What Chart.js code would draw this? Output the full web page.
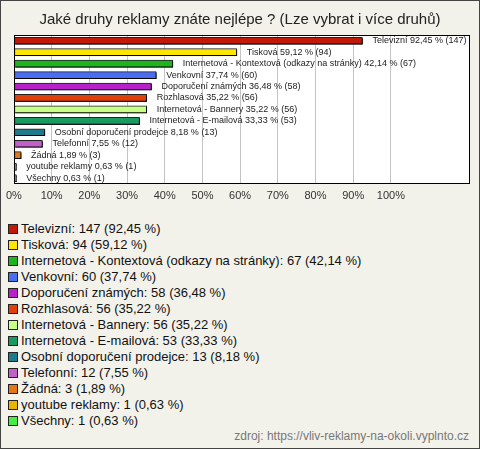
<!doctype html>
<html lang="cs">
    <head>
        <meta charset="UTF-8"/>
        <title>Reklamy</title>
        <script src="https://cdn.jsdelivr.net/npm/chart.js@4/dist/chart.umd.min.js"></script>
        <style>
         * { margin: 0; padding: 0; }
         body { width: 480px; height: 449px; background: #f3f2ea; position: relative; overflow: hidden;
                font-family: "Liberation Sans", Arial, sans-serif; }
         #frame { position: absolute; left: 0; top: 0; width: 480px; height: 449px; box-sizing: border-box;
                  border: 1px solid #444; pointer-events: none; }
         #wrap { position: absolute; left: 0; top: 0; width: 480px; height: 215px; }
         #legend { position: absolute; left: 8px; top: 221px; font-size: 13px; color: #111; }
         #legend div { height: 16px; line-height: 16px; white-space: nowrap; }
         #legend span.box { display: inline-block; width: 8px; height: 8px; border: 1px solid #222;
                            margin-right: 3px; vertical-align: -1px; }
         #source { position: absolute; right: 11px; top: 429px; font-size: 12px; color: #777; }
        </style>
    </head>
    <body>
        <div id="wrap"><canvas id="chart"></canvas></div>
        <div id="legend"></div>
        <div id="source">zdroj: https://vliv-reklamy-na-okoli.vyplnto.cz</div>
        <div id="frame"></div>
        <script>
         const categories = ['Televizní', 'Tisková', 'Internetová - Kontextová (odkazy na stránky)', 'Venkovní',
                             'Doporučení známých', 'Rozhlasová', 'Internetová - Bannery', 'Internetová - E-mailová',
                             'Osobní doporučení prodejce', 'Telefonní', 'Žádná', 'youtube reklamy', 'Všechny'];
         const counts = [147, 94, 67, 60, 58, 56, 56, 53, 13, 12, 3, 1, 1];
         const percents = [92.45, 59.12, 42.14, 37.74, 36.48, 35.22, 35.22, 33.33, 8.18, 7.55, 1.89, 0.63, 0.63];
         const colors = ['#c01a0a', '#ffe600', '#1fb41f', '#4a6ef0', '#b522c8', '#e0400a', '#c8ff88',
                         '#1a9a60', '#1f7a8c', '#c060c8', '#e07818', '#e8b400', '#44ee44'];
         const tickValues = [0, 10, 20, 30, 40, 50, 60, 70, 80, 90, 100];

         function fmt(p) {
             return p.toFixed(2).replace('.', ',');
         }

         // legend built from the arrays
         let legendHtml = '';
         for (let i = 0; i < categories.length; i++) {
             legendHtml += `<div><span class="box" style="background:${colors[i]}"></span>${categories[i]}: ${counts[i]} (${fmt(percents[i])} %)</div>`;
         }
         document.getElementById('legend').innerHTML = legendHtml;

         const areaPlugin = {
             id: 'area',
             beforeDraw(chart) {
                 const a = chart.chartArea;
                 const ctx = chart.ctx;
                 ctx.save();
                 ctx.fillStyle = '#ffffff';
                 ctx.fillRect(a.left, a.top, a.right - a.left, a.bottom - a.top);
                 ctx.restore();
             },
             beforeDatasetsDraw(chart) {
                 const ctx = chart.ctx;
                 ctx.save();
                 ctx.shadowColor = 'rgba(0,0,0,0.9)';
                 ctx.shadowOffsetX = 1;
                 ctx.shadowOffsetY = 1;
                 ctx.shadowBlur = 0;
             },
             afterDatasetsDraw(chart) {
                 const ctx = chart.ctx;
                 ctx.restore();
                 const meta = chart.getDatasetMeta(0);
                 ctx.save();
                 ctx.font = '9px "Liberation Sans", Arial, sans-serif';
                 ctx.fillStyle = '#222';
                 ctx.textBaseline = 'middle';
                 ctx.textAlign = 'left';
                 meta.data.forEach((bar, i) => {
                     const x = chart.scales.x.getPixelForValue(percents[i]) + 10;
                     ctx.fillText(`${categories[i]} ${fmt(percents[i])} % (${counts[i]})`, x, bar.y);
                 });
                 ctx.restore();
             },
             afterDraw(chart) {
                 const a = chart.chartArea;
                 const ctx = chart.ctx;
                 ctx.save();
                 ctx.strokeStyle = '#000';
                 ctx.lineWidth = 1;
                 ctx.strokeRect(Math.round(a.left) + 0.5, Math.round(a.top) + 0.5,
                                Math.round(a.right - a.left) - 1, Math.round(a.bottom - a.top) - 1);
                 ctx.restore();
             }
         };

         new Chart(document.getElementById('chart'), {
             type: 'bar',
             data: {
                 labels: categories,
                 datasets: [{
                     data: percents,
                     backgroundColor: colors,
                     borderColor: '#222',
                     borderWidth: 1,
                     borderSkipped: false,
                     barThickness: 7
                 }]
             },
             options: {
                 indexAxis: 'y',
                 responsive: true,
                 maintainAspectRatio: false,
                 animation: false,
                 layout: { padding: { left: 10, right: 10, top: 0, bottom: 6 } },
                 plugins: {
                     legend: { display: false },
                     tooltip: { enabled: false },
                     title: {
                         display: true,
                         text: 'Jaké druhy reklamy znáte nejlépe ? (Lze vybrat i více druhů)',
                         color: '#222',
                         font: { family: '"Liberation Sans", Arial, sans-serif', size: 15, weight: 'normal' },
                         padding: { top: 11, bottom: 6 }
                     }
                 },
                 scales: {
                     y: { display: false },
                     x: {
                         min: 0,
                         max: 121,
                         afterBuildTicks(scale) {
                             scale.ticks = tickValues.map(v => ({ value: v }));
                         },
                         grid: {
                             drawTicks: false,
                             color: c => (c.tick && c.tick.value > 0 && c.tick.value <= 100) ? '#c4c4c4' : 'rgba(0,0,0,0)'
                         },
                         border: { display: false },
                         ticks: {
                             autoSkip: false,
                             maxRotation: 0,
                             padding: 6,
                             color: '#333',
                             font: { family: '"Liberation Sans", Arial, sans-serif', size: 11 },
                             callback: v => v + '%'
                         }
                     }
                 }
             },
             plugins: [areaPlugin]
         });
        </script>
    </body>
</html>
